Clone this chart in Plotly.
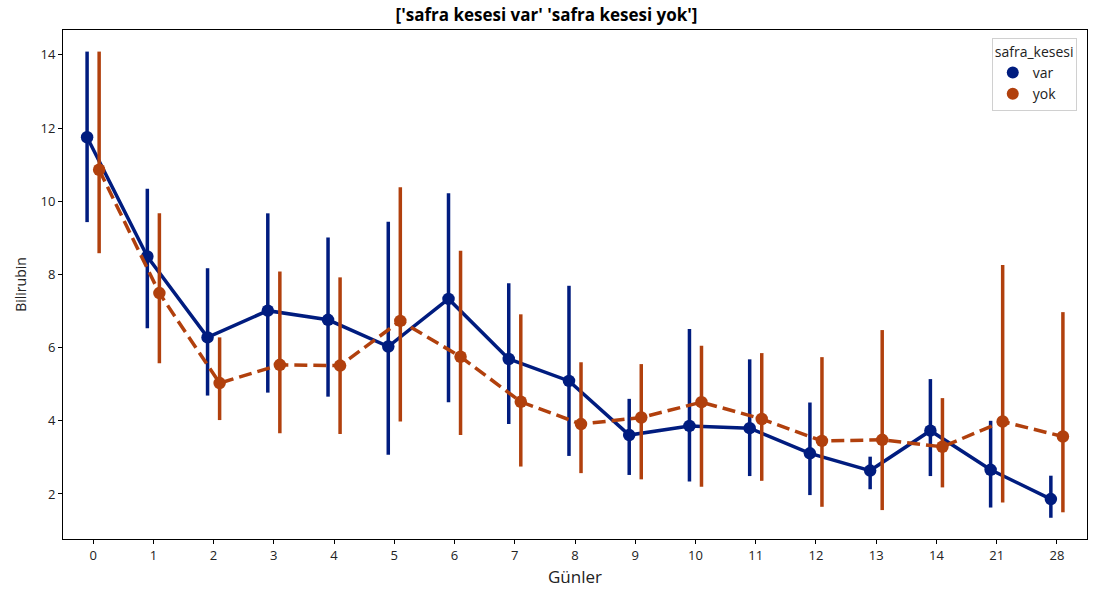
import plotly.graph_objects as go

days = ["0", "1", "2", "3", "4", "5", "6", "7", "8", "9", "10", "11", "12", "13", "14", "21", "28"]

var_mean = [11.75, 8.49, 6.28, 7.01, 6.76, 6.03, 7.33, 5.69, 5.09, 3.61, 3.86, 3.80, 3.11, 2.64, 3.73, 2.66, 1.86]
var_hi   = [14.09, 10.34, 8.17, 9.67, 9.01, 9.44, 10.22, 7.76, 7.69, 4.60, 6.51, 5.68, 4.50, 3.02, 5.14, 4.00, 2.50]
var_lo   = [9.43, 6.53, 4.69, 4.77, 4.66, 3.07, 4.51, 3.91, 3.04, 2.52, 2.34, 2.49, 1.97, 2.13, 2.49, 1.63, 1.35]

yok_mean = [10.86, 7.49, 5.03, 5.53, 5.51, 6.73, 5.75, 4.52, 3.91, 4.09, 4.51, 4.05, 3.45, 3.48, 3.29, 3.98, 3.57]
yok_hi   = [14.09, 9.67, 6.28, 8.08, 7.92, 10.38, 8.65, 6.91, 5.60, 5.55, 6.05, 5.85, 5.74, 6.48, 4.62, 8.26, 6.97]
yok_lo   = [8.58, 5.57, 4.02, 3.66, 3.64, 3.98, 3.61, 2.75, 2.57, 2.40, 2.20, 2.36, 1.65, 1.56, 2.18, 1.77, 1.50]

series = [
    ("var", var_mean, var_hi, var_lo, "#001c7f", "solid", -0.1),
    ("yok", yok_mean, yok_hi, yok_lo, "#b1400d", "13px,6px", 0.1),
]

FONT = "Open Sans, DejaVu Sans, sans-serif"
fig = go.Figure()
idx = list(range(len(days)))
for name, mean, hi, lo, color, dash, off in series:
    xs = [i + off for i in idx]
    fig.add_trace(go.Scatter(
        x=xs, y=mean, mode="lines+markers", name=name, showlegend=False,
        line=dict(color=color, width=3.5, dash=dash),
        marker=dict(color=color, size=12.5),
        error_y=dict(type="data", symmetric=False,
                     array=[h - m for h, m in zip(hi, mean)],
                     arrayminus=[m - l for m, l in zip(mean, lo)],
                     color=color, thickness=3.5, width=0),
    ))
for name, mean, hi, lo, color, dash, off in series:
    fig.add_trace(go.Scatter(
        x=[None], y=[None], mode="markers", name=name,
        marker=dict(color=color, size=13),
    ))

fig.update_layout(
    width=1093, height=597,
    margin=dict(l=63, r=6, t=30, b=58),
    paper_bgcolor="white", plot_bgcolor="white",
    font=dict(family=FONT, color="#222222", size=13),
    title=dict(text="<b>['safra kesesi var' 'safra kesesi yok']</b>",
               x=0.5, xanchor="center", y=0.974, yanchor="middle",
               font=dict(size=17, color="black")),
    legend=dict(title=dict(text="safra_kesesi", side="top", font=dict(size=14)),
                x=0.99, xanchor="right", y=0.985, yanchor="top",
                bgcolor="white", bordercolor="#d0d0d0", borderwidth=1,
                font=dict(size=14), itemsizing="constant",
                tracegroupgap=0),
    xaxis=dict(range=[-0.5, len(days) - 0.5], tickvals=idx, ticktext=days,
               showgrid=False, zeroline=False, showline=True, mirror=True,
               linecolor="black", linewidth=1, ticks="outside", ticklen=4,
               tickcolor="black",
               title=dict(text="Günler", font=dict(size=17), standoff=8)),
    yaxis=dict(range=[0.77, 14.68], tickvals=[2, 4, 6, 8, 10, 12, 14],
               showgrid=False, zeroline=False, showline=True, mirror=True,
               linecolor="black", linewidth=1, ticks="outside", ticklen=4,
               tickcolor="black",
               title=dict(text="Bilirubin", font=dict(size=14), standoff=10)),
)

fig.write_html("out.html")
